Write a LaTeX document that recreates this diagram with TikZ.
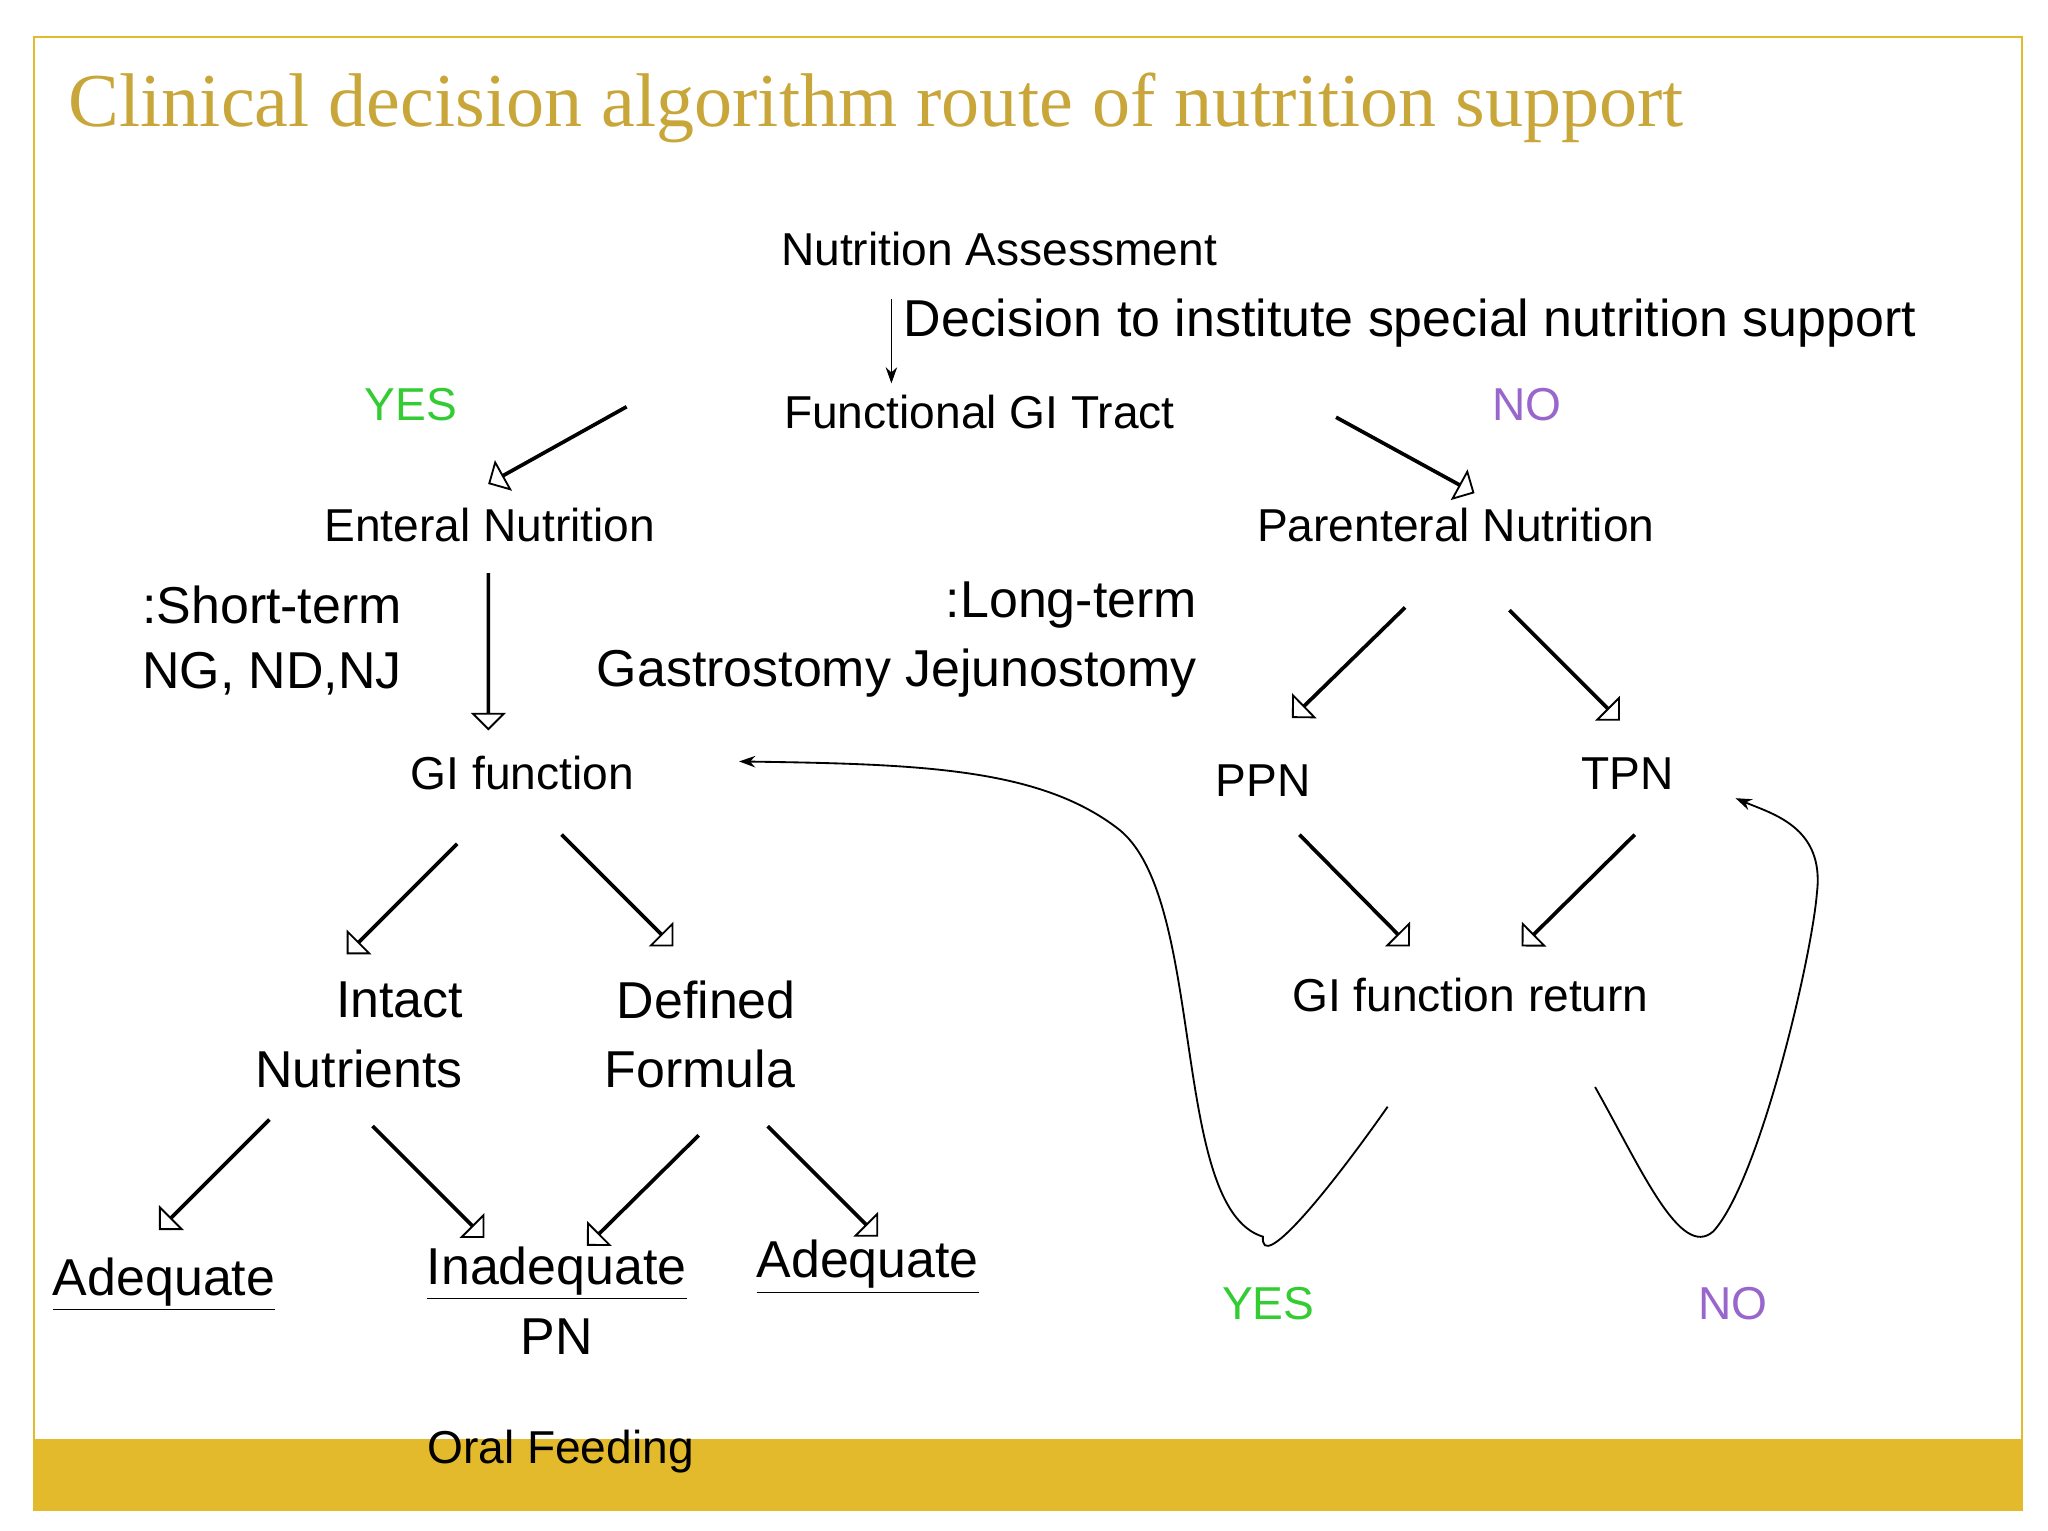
\documentclass[tikz,border=0pt]{standalone}
\usepackage{fontspec}
\setmainfont{Liberation Sans}
\newfontfamily\titlefont{Liberation Serif}
\usetikzlibrary{shapes.arrows,arrows.meta}
\definecolor{gold}{HTML}{E3BA2C}
\definecolor{titlegold}{HTML}{C9A63A}
\definecolor{yesgreen}{HTML}{33CC33}
\definecolor{nopurple}{HTML}{9966CC}
\tikzset{
  harr/.style={single arrow,draw=black,fill=white,line width=0.8pt,minimum width=0.26cm,single arrow head extend=0.22cm,inner sep=0pt,single arrow head indent=0pt},
  lbl/.style={font=\fontsize{20}{24}\selectfont,inner sep=0pt},
  big/.style={font=\fontsize{22.5}{27}\selectfont,inner sep=0pt},
  yes/.style={lbl,text=yesgreen},
  no/.style={lbl,text=nopurple},
}
\newcommand\harrow[5]{%
  \pgfmathsetmacro\hlen{veclen(#4-#2,#5-#3)*0.02}%
  \pgfmathsetmacro\hang{atan2(-(#5-#3),#4-#2)}%
  \node[harr,minimum height=\hlen cm,rotate=\hang] (#1) at ({(#2+#4)/2},{(#3+#5)/2}) {};}
\begin{document}
\begin{tikzpicture}[x=0.02cm,y=-0.02cm]
\useasboundingbox (0,0) rectangle (1560,1166);
\fill[gold] (26,1096) rectangle (1540,1150);
\draw[gold,line width=1pt] (26,28) rectangle (1540,1150);
\node[anchor=west,text=titlegold,inner sep=0pt,font=\titlefont\fontsize{33}{40}\selectfont] (title) at (52,82) {Clinical decision algorithm route of nutrition support};
\node[lbl] (na) at (761,190) {Nutrition Assessment};
\node[big,anchor=west] (dec) at (688,246) {Decision to institute special nutrition support};
\node[lbl] (fgi) at (746,314) {Functional GI Tract};
\coordinate (t1) at (679,228); \coordinate (t2) at (679,292);
\draw[-{Stealth[length=7pt,width=5pt]}] (t1) -- (t2);
\node[yes] (yes1) at (313,308) {YES};
\node[no] (no1) at (1163,308) {NO};
\node[lbl] (en) at (373,400) {Enteral Nutrition};
\node[lbl] (pn) at (1109,400) {Parenteral Nutrition};
\node[big,anchor=west] (st) at (108,461) {:Short-term};
\node[big,anchor=west] (ng) at (108,513) {NG, ND,NJ};
\node[big,anchor=east] (lt) at (912,461) {:Long-term};
\node[big,anchor=east] (gj) at (912,513) {Gastrostomy Jejunostomy};
\node[lbl] (gif) at (398,589) {GI function};
\node[lbl] (ppn) at (962,595) {PPN};
\node[lbl] (tpn) at (1240,589) {TPN};
\node[big,anchor=east] (in1) at (353,762) {Intact};
\node[big,anchor=east] (in2) at (353,814) {Nutrients};
\node[big] (df1) at (538,762) {Defined};
\node[big] (df2) at (533,814) {Formula};
\node[lbl] (gifr) at (1120,758) {GI function return};
\node[big] (ad1) at (125,978) {\underline{Adequate}};
\node[big] (inad) at (424,970) {\underline{Inadequate}};
\node[big] (pnx) at (424,1018) {PN};
\node[big] (ad2) at (661,965) {\underline{Adequate}};
\node[yes] (yes2) at (966,993) {YES};
\node[no] (no2) at (1320,993) {NO};
\node[lbl] (oral) at (427,1106) {Oral Feeding};
\harrow{a1}{477}{310}{373}{368}
\harrow{a2}{1018}{318}{1122}{375}
\harrow{a3}{372}{437}{372}{555}
\harrow{a4}{1070}{463}{985}{546}
\harrow{a5}{1150}{465}{1233}{548}
\harrow{a6}{348}{643}{265}{726}
\harrow{a7}{428}{636}{512}{720}
\harrow{a8}{990}{636}{1073}{720}
\harrow{a9}{1245}{636}{1160}{720}
\harrow{a10}{205}{853}{122}{936}
\harrow{a11}{284}{858}{368}{942}
\harrow{a12}{532}{865}{448}{948}
\harrow{a13}{585}{858}{668}{941}
\coordinate (c1) at (1057,843); \coordinate (c2) at (962,942); \coordinate (c3) at (563,580);
\draw[line width=0.8pt,-{Stealth[length=7pt,width=5pt]}] (c1) .. controls (1010,910) and (960,970) .. (c2) .. controls (890,920) and (920,680) .. (850,630) .. controls (790,585) and (700,582) .. (c3);
\coordinate (d1) at (1215,828); \coordinate (d2) at (1305,938); \coordinate (d3) at (1322,608);
\draw[line width=0.8pt,-{Stealth[length=7pt,width=5pt]}] (d1) .. controls (1250,890) and (1280,960) .. (d2) .. controls (1340,900) and (1380,730) .. (1384,680) .. controls (1390,630) and (1350,620) .. (d3);
\end{tikzpicture}
\end{document}
